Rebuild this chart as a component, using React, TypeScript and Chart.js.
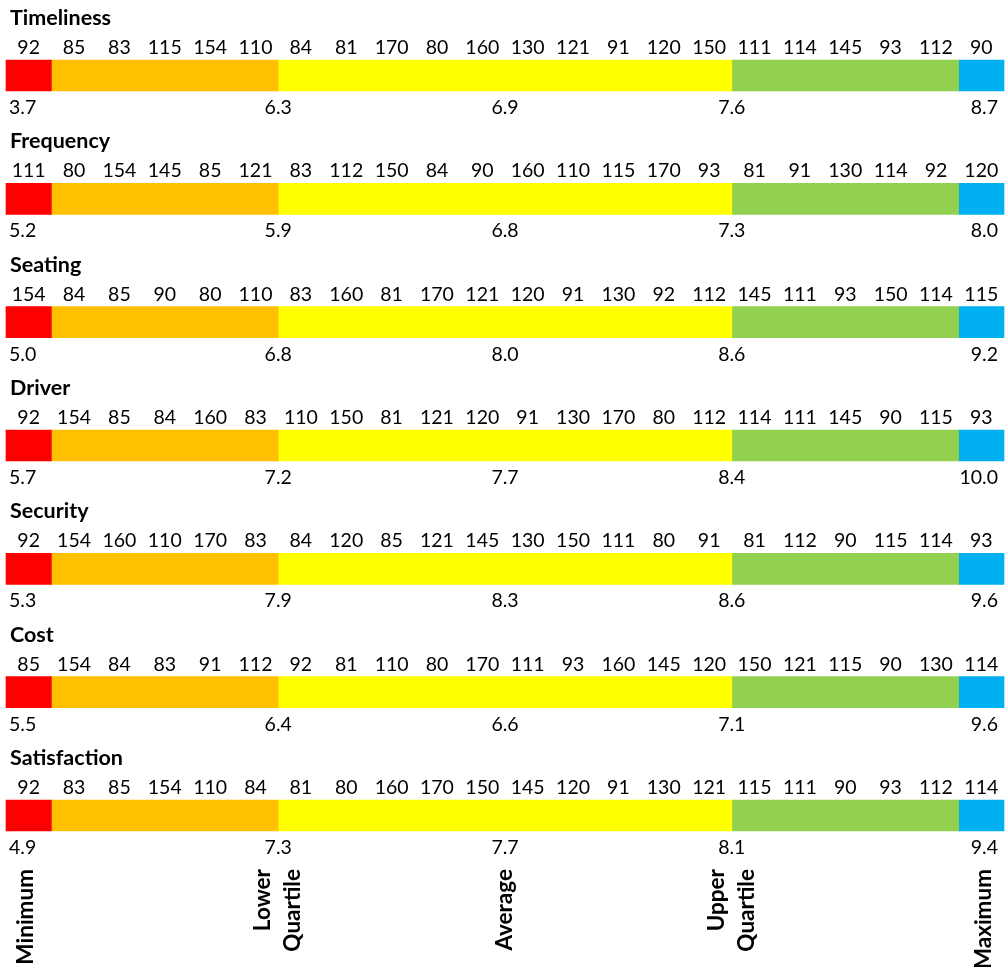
import React, { useEffect, useRef } from "react";
import { Chart, registerables } from "chart.js";

Chart.register(...registerables);

const ROWS = ["Timeliness", "Frequency", "Seating", "Driver", "Security", "Cost", "Satisfaction"];

const ZONES = ["Minimum", "Lower", "Middle", "Upper", "Maximum"];
const ZONE_CELLS = [1, 5, 10, 5, 1];
const ZONE_COLORS = ["#FF0000", "#FFC000", "#FFFF00", "#92D050", "#00B0F0"];

const TIMELINESS = [92, 85, 83, 115, 154, 110, 84, 81, 170, 80, 160, 130, 121, 91, 120, 150, 111, 114, 145, 93, 112, 90];
const FREQUENCY = [111, 80, 154, 145, 85, 121, 83, 112, 150, 84, 90, 160, 110, 115, 170, 93, 81, 91, 130, 114, 92, 120];
const SEATING = [154, 84, 85, 90, 80, 110, 83, 160, 81, 170, 121, 120, 91, 130, 92, 112, 145, 111, 93, 150, 114, 115];
const DRIVER = [92, 154, 85, 84, 160, 83, 110, 150, 81, 121, 120, 91, 130, 170, 80, 112, 114, 111, 145, 90, 115, 93];
const SECURITY = [92, 154, 160, 110, 170, 83, 84, 120, 85, 121, 145, 130, 150, 111, 80, 91, 81, 112, 90, 115, 114, 93];
const COST = [85, 154, 84, 83, 91, 112, 92, 81, 110, 80, 170, 111, 93, 160, 145, 120, 150, 121, 115, 90, 130, 114];
const SATISFACTION = [92, 83, 85, 154, 110, 84, 81, 80, 160, 170, 150, 145, 120, 91, 130, 121, 115, 111, 90, 93, 112, 114];

const CELL_VALUES = [TIMELINESS, FREQUENCY, SEATING, DRIVER, SECURITY, COST, SATISFACTION];

// Minimum, Lower Quartile, Average, Upper Quartile, Maximum
const STAT_TIMELINESS = ["3.7", "6.3", "6.9", "7.6", "8.7"];
const STAT_FREQUENCY = ["5.2", "5.9", "6.8", "7.3", "8.0"];
const STAT_SEATING = ["5.0", "6.8", "8.0", "8.6", "9.2"];
const STAT_DRIVER = ["5.7", "7.2", "7.7", "8.4", "10.0"];
const STAT_SECURITY = ["5.3", "7.9", "8.3", "8.6", "9.6"];
const STAT_COST = ["5.5", "6.4", "6.6", "7.1", "9.6"];
const STAT_SATISFACTION = ["4.9", "7.3", "7.7", "8.1", "9.4"];

const STATS = [STAT_TIMELINESS, STAT_FREQUENCY, STAT_SEATING, STAT_DRIVER, STAT_SECURITY, STAT_COST, STAT_SATISFACTION];

const STAT_NAMES = [["Minimum"], ["Lower", "Quartile"], ["Average"], ["Upper", "Quartile"], ["Maximum"]];

const FONT = "Lato, 'Open Sans', sans-serif";
const BAR_H = 31;

const TOTAL_CELLS = ZONE_CELLS.reduce((a, b) => a + b, 0);

// positions (in cell units) where each statistic is marked
function statPositions(): number[] {
  const lower = ZONE_CELLS[0] + ZONE_CELLS[1];
  const upper = lower + ZONE_CELLS[2];
  return [0.5, lower, (lower + upper) / 2, upper, TOTAL_CELLS - 0.5];
}

const textPlugin = {
  id: "rowText",
  afterDatasetsDraw(chart: any) {
    const ctx = chart.ctx as CanvasRenderingContext2D;
    const xs = chart.scales.x;
    const ys = chart.scales.y;
    const pos = statPositions();
    ctx.save();
    ctx.fillStyle = "#000000";
    ROWS.forEach((name, r) => {
      const yc = ys.getPixelForValue(r);
      const top = yc - BAR_H / 2;
      const bottom = yc + BAR_H / 2;
      // title
      ctx.font = `bold 21.5px ${FONT}`;
      ctx.textAlign = "left";
      ctx.textBaseline = "alphabetic";
      ctx.fillText(name, xs.getPixelForValue(0) + 4, top - 35);
      // cell numbers
      ctx.font = `19.5px ${FONT}`;
      ctx.textAlign = "center";
      CELL_VALUES[r].forEach((v, c) => {
        ctx.fillText(String(v), xs.getPixelForValue(c + 0.5), top - 6);
      });
      // stats below
      STATS[r].forEach((s, k) => {
        let x = xs.getPixelForValue(pos[k]);
        if (k === 0) {
          ctx.textAlign = "left";
          x = xs.getPixelForValue(0) + 3;
        } else if (k === STATS[r].length - 1) {
          ctx.textAlign = "right";
          x = xs.getPixelForValue(TOTAL_CELLS) - 6;
        } else {
          ctx.textAlign = "center";
        }
        ctx.fillText(s, x, bottom + 23);
      });
    });
    // rotated stat names at the bottom
    const lastBottom = ys.getPixelForValue(ROWS.length - 1) + BAR_H / 2;
    const yTop = lastBottom + 38;
    ctx.font = `bold 22.5px ${FONT}`;
    ctx.textAlign = "right";
    ctx.textBaseline = "middle";
    STAT_NAMES.forEach((lines, k) => {
      let x = xs.getPixelForValue(pos[k]);
      if (k === 0) x -= 3;
      if (k === STAT_NAMES.length - 1) x += 2;
      ctx.save();
      ctx.translate(x, yTop);
      ctx.rotate(-Math.PI / 2);
      const lh = 30;
      lines.forEach((ln, j) => {
        ctx.fillText(ln, 0, (j - (lines.length - 1) / 2) * lh);
      });
      ctx.restore();
    });
    ctx.restore();
  },
};

export default function App() {
  const ref = useRef<HTMLCanvasElement | null>(null);
  useEffect(() => {
    if (!ref.current) return;
    const chart = new Chart(ref.current, {
      type: "bar",
      data: {
        labels: ROWS,
        datasets: ZONES.map((z, k) => ({
          label: z,
          data: ROWS.map(() => ZONE_CELLS[k]),
          backgroundColor: ZONE_COLORS[k],
          borderWidth: 0,
          barThickness: BAR_H,
          clip: false as any,
        })),
      },
      options: {
        indexAxis: "y",
        animation: false,
        responsive: false,
        devicePixelRatio: 1,
        layout: { padding: { left: 6, right: 3, top: 13.8, bottom: 89.8 } },
        scales: {
          x: { type: "linear", stacked: true, min: 0, max: TOTAL_CELLS, display: false },
          y: { type: "category", stacked: true, offset: true, display: false },
        },
        plugins: { legend: { display: false }, tooltip: { enabled: false } },
      },
      plugins: [textPlugin],
    });
    return () => chart.destroy();
  }, []);
  return (
    <div style={{ position: "absolute", left: 0, top: 0, width: 1007, height: 967, background: "#ffffff" }}>
      <canvas ref={ref} width={1007} height={967} style={{ display: "block" }} />
    </div>
  );
}
